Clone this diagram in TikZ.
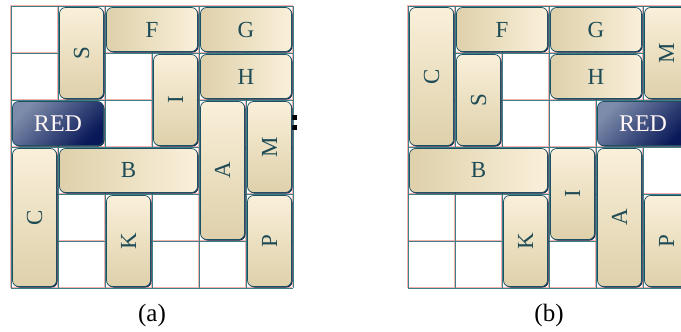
\documentclass[tikz,border=0pt]{standalone}
\usepackage{fontspec}
\setmainfont{Liberation Serif}
\usepackage{graphicx}
\usetikzlibrary{shadows}
\definecolor{cream}{RGB}{250,240,218}
\definecolor{tand}{RGB}{222,208,170}
\definecolor{ink}{RGB}{30,75,85}
\definecolor{rim}{RGB}{30,80,100}
\definecolor{navy}{RGB}{10,40,75}
\definecolor{redlt}{RGB}{125,140,170}
\definecolor{reddk}{RGB}{8,24,88}
\definecolor{gridc}{RGB}{62,128,136}
\definecolor{gridp}{RGB}{245,175,175}
\def\cs{47}
\tikzset{
  % Grundform der Steine
  piece/.style={rectangle, rounded corners=6pt, inner sep=0pt, draw=rim, line width=0.75pt,
    text=ink, font=\fontsize{23}{23}\selectfont,
    drop shadow={shadow xshift=1pt, shadow yshift=-1pt, fill=navy, opacity=1}},
  hpiece/.style={piece, left color=tand, middle color=cream, right color=cream},
  vpiece/.style={piece, top color=cream, middle color=cream, bottom color=tand},
  redcar/.style={piece, top color=redlt, bottom color=reddk, shading angle=45,
    text=white!85!pink, font=\fontsize{24}{24}\selectfont},
  gline/.style={gridc, line width=0.8pt},
  pline/.style={gridp, line width=0.5pt},
  subcap/.style={font=\fontsize{25}{25}\selectfont, text=black},
}
% Stein: Name, Ursprung x, Spalte, Zeile, Breite, Hoehe, Stil, Text
\newcommand{\pc}[8]{%
  \node[#7, minimum width={#5*\cs*1pt-3pt}, minimum height={#6*\cs*1pt-3pt}]
    (#1) at ({#2+(#3-1+#5/2)*\cs},{6+(#4-1+#6/2)*\cs}) {#8};}
\newcommand{\vt}[1]{\rotatebox{90}{#1}}
\begin{document}
\begin{tikzpicture}[x=1pt, y=-1pt]
  \useasboundingbox (0,0) rectangle (681,332);
  \fill[white] (0,0) rectangle (681,332);
  % Gitter
  \foreach \ox in {11,408} {
    \foreach \i in {0,...,6} {
      \draw[pline] ({\ox+\i*\cs-0.7},5.3) -- ({\ox+\i*\cs-0.7},{6+6*\cs-0.7});
      \draw[pline] ({\ox-0.7},{6+\i*\cs-0.7}) -- ({\ox+6*\cs-0.7},{6+\i*\cs-0.7});
    }
    \foreach \i in {0,...,6} {
      \draw[gline] ({\ox+\i*\cs},6) -- ({\ox+\i*\cs},{6+6*\cs});
      \draw[gline] (\ox,{6+\i*\cs}) -- ({\ox+6*\cs},{6+\i*\cs});
    }
  }
  % Ausgang
  \fill[black] (292,115) rectangle (297,119.5);
  \fill[black] (292,125) rectangle (297,130);
  % (a)
  \pc{aS}{11}{2}{1}{1}{2}{vpiece}{\vt{S}}
  \pc{aF}{11}{3}{1}{2}{1}{hpiece}{F}
  \pc{aG}{11}{5}{1}{2}{1}{hpiece}{G}
  \pc{aI}{11}{4}{2}{1}{2}{vpiece}{\vt{I}}
  \pc{aH}{11}{5}{2}{2}{1}{hpiece}{H}
  \pc{aR}{11}{1}{3}{2}{1}{redcar}{RED}
  \pc{aA}{11}{5}{3}{1}{3}{vpiece}{\vt{A}}
  \pc{aM}{11}{6}{3}{1}{2}{vpiece}{\vt{M}}
  \pc{aC}{11}{1}{4}{1}{3}{vpiece}{\vt{C}}
  \pc{aB}{11}{2}{4}{3}{1}{hpiece}{B}
  \pc{aK}{11}{3}{5}{1}{2}{vpiece}{\vt{K}}
  \pc{aP}{11}{6}{5}{1}{2}{vpiece}{\vt{P}}
  % (b)
  \pc{bC}{408}{1}{1}{1}{3}{vpiece}{\vt{C}}
  \pc{bF}{408}{2}{1}{2}{1}{hpiece}{F}
  \pc{bG}{408}{4}{1}{2}{1}{hpiece}{G}
  \pc{bM}{408}{6}{1}{1}{2}{vpiece}{\vt{M}}
  \pc{bS}{408}{2}{2}{1}{2}{vpiece}{\vt{S}}
  \pc{bH}{408}{4}{2}{2}{1}{hpiece}{H}
  \pc{bR}{408}{5}{3}{2}{1}{redcar}{RED}
  \pc{bB}{408}{1}{4}{3}{1}{hpiece}{B}
  \pc{bI}{408}{4}{4}{1}{2}{vpiece}{\vt{I}}
  \pc{bA}{408}{5}{4}{1}{3}{vpiece}{\vt{A}}
  \pc{bK}{408}{3}{5}{1}{2}{vpiece}{\vt{K}}
  \pc{bP}{408}{6}{5}{1}{2}{vpiece}{\vt{P}}
  % Unterschriften
  \node[subcap] (capa) at (152,315) {(a)};
  \node[subcap] (capb) at (549,315) {(b)};
\end{tikzpicture}
\end{document}
